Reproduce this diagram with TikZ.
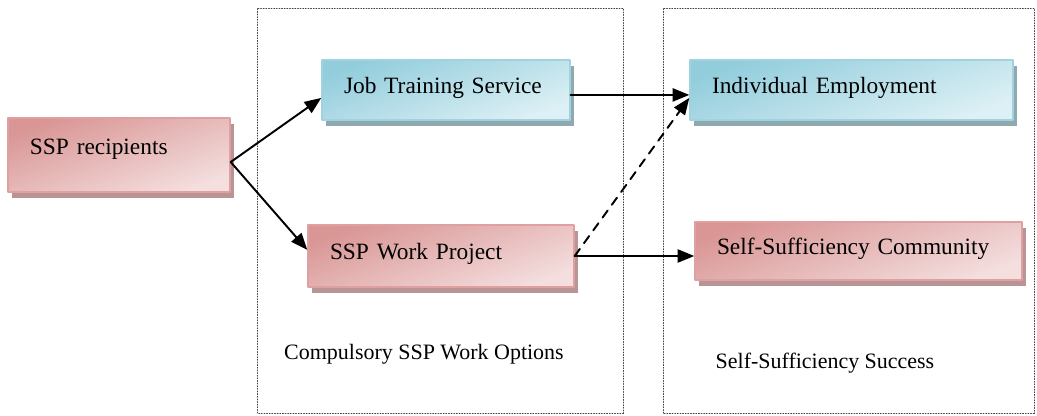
\documentclass[tikz,border=0pt]{standalone}
\usepackage{fontspec}
\setmainfont{Liberation Serif}
\usetikzlibrary{arrows.meta,shadows}
\definecolor{pinkdark}{RGB}{217,150,149}
\definecolor{pinklight}{RGB}{244,222,222}
\definecolor{pinkline}{RGB}{222,160,160}
\definecolor{pinkshade}{RGB}{184,148,149}
\definecolor{bluedark}{RGB}{146,205,220}
\definecolor{bluelight}{RGB}{221,240,245}
\definecolor{blueline}{RGB}{160,210,224}
\definecolor{blueshade}{RGB}{143,169,176}

\begin{document}
\begin{tikzpicture}[line cap=round,line join=round,
  >={Triangle[length=9.5pt,width=7.5pt]},
  box/.style={rectangle,line width=0.8pt,text height=0.33cm,text depth=0.2cm,
    align=left,inner xsep=0.44cm,font=\fontsize{13.3}{16}\selectfont},
  redbox/.style={box,draw=pinkline,top color=pinkdark,bottom color=pinklight,shading angle=20,
    drop shadow={shadow xshift=0.08cm,shadow yshift=-0.12cm,opacity=1,fill=pinkshade}},
  bluebox/.style={box,draw=blueline,top color=bluedark,bottom color=bluelight,shading angle=20,
    drop shadow={shadow xshift=0.08cm,shadow yshift=-0.12cm,opacity=1,fill=blueshade}},
  link/.style={->,line width=1.1pt}]
  \useasboundingbox (0,0) rectangle (20.74,8.30);
  \draw[densely dotted,line width=0.5pt,black!75] (5.14,0.04) rectangle (12.46,8.14);
  \draw[densely dotted,line width=0.5pt,black!75] (13.26,0.04) rectangle (20.68,8.14);
  \node[redbox,text width=3.56cm,minimum height=1.48cm,text depth=0.36cm] (rec) at (2.38,5.20) {SSP recipients};
  \node[bluebox,text width=4.08cm,minimum height=1.20cm] (jts) at (8.92,6.50) {Job Training Service};
  \node[redbox,text width=4.44cm,minimum height=1.24cm] (swp) at (8.82,3.18) {SSP Work Project};
  \node[bluebox,text width=5.58cm,minimum height=1.20cm] (emp) at (17.03,6.50) {Individual Employment};
  \node[redbox,text width=5.66cm,minimum height=1.16cm] (ssc) at (17.17,3.28) {Self-Sufficiency Community};
  \draw[link] ([yshift=-4pt]rec.east) -- ([yshift=-4.5pt]jts.west);
  \draw[link] ([yshift=-4pt]rec.east) -- ([yshift=3.5pt]swp.west);
  \draw[link] ([yshift=-2.8pt]jts.east) -- ([yshift=-2.8pt]jts.east -| emp.west);
  \draw[link,dash pattern=on 5pt off 4pt] (swp.east) -- ([yshift=-4.5pt]emp.west);
  \draw[link] (swp.east) -- (swp.east -| ssc.west);
  \node[font=\fontsize{12.5}{15}\selectfont] (opt) at (8.48,1.22) {Compulsory SSP Work Options};
  \node[font=\fontsize{12.5}{15}\selectfont] (suc) at (16.50,1.04) {Self-Sufficiency Success};
\end{tikzpicture}
\end{document}
